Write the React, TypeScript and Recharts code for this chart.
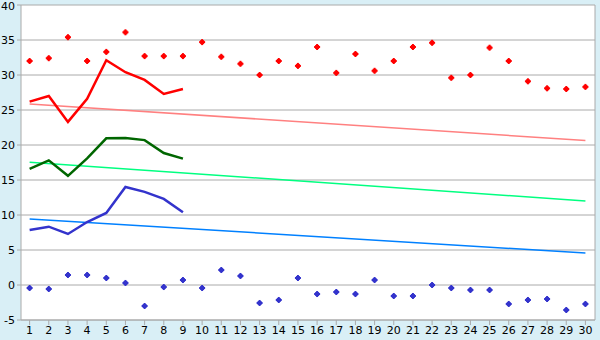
import {
  CartesianGrid,
  ComposedChart,
  Line,
  ReferenceLine,
  Scatter,
  XAxis,
  YAxis,
} from "recharts";

const days = Array.from({ length: 30 }, (_, i) => i + 1);
const yTicks = [-5, 0, 5, 10, 15, 20, 25, 30, 35, 40];

const redDots = [
  32.0, 32.4, 35.4, 32.0, 33.3, 36.1, 32.7, 32.7, 32.7, 34.7, 32.6, 31.6, 30.0, 32.0, 31.3,
  34.0, 30.3, 33.0, 30.6, 32.0, 34.0, 34.6, 29.6, 30.0, 33.9, 32.0, 29.1, 28.1, 28.0, 28.3,
];
const blueDots = [
  -0.43, -0.57, 1.43, 1.43, 1.0, 0.29, -3.0, -0.29, 0.71, -0.43, 2.14, 1.29, -2.57, -2.14, 1.0,
  -1.29, -1.0, -1.29, 0.71, -1.57, -1.57, 0.0, -0.43, -0.71, -0.71, -2.71, -2.14, -2.0, -3.57, -2.71,
];
const redLine = [26.2, 27.0, 23.3, 26.6, 32.1, 30.4, 29.3, 27.3, 28.0];
const greenLine = [16.6, 17.8, 15.6, 18.1, 20.95, 21.0, 20.7, 18.85, 18.05];
const blueLine = [7.86, 8.33, 7.29, 9.0, 10.3, 14.0, 13.3, 12.3, 10.4];

// trend lines: start / end values only
const redTrend = [25.85, 20.65];
const greenTrend = [17.55, 12.0];
const blueTrend = [9.43, 4.57];

const data = days.map((d, i) => ({
  x: d,
  redDot: redDots[i],
  blueDot: blueDots[i],
  red: i < redLine.length ? redLine[i] : null,
  green: i < greenLine.length ? greenLine[i] : null,
  blue: i < blueLine.length ? blueLine[i] : null,
  redT: i === 0 ? redTrend[0] : i === days.length - 1 ? redTrend[1] : null,
  greenT: i === 0 ? greenTrend[0] : i === days.length - 1 ? greenTrend[1] : null,
  blueT: i === 0 ? blueTrend[0] : i === days.length - 1 ? blueTrend[1] : null,
}));

const makeMarker = (color: string) => (props: any) => {
  const { cx, cy } = props;
  if (cx == null || cy == null) return <g />;
  return (
    <g fill={color}>
      <rect x={cx - 1} y={cy - 3} width={2} height={6} />
      <rect x={cx - 3} y={cy - 1} width={6} height={2} />
      <rect x={cx - 2} y={cy - 2} width={4} height={4} />
    </g>
  );
};

const tickStyle = { fill: "#000", fontSize: 11, fontFamily: "DejaVu Sans, Verdana, sans-serif" };

export default function App() {
  return (
    <div
      style={{
        position: "absolute",
        left: 0,
        top: 0,
        width: 600,
        height: 340,
        background: "#d9eff6",
      }}
    >
      <ComposedChart
        width={600}
        height={340}
        data={data}
        margin={{ top: 5, right: 5, left: 0, bottom: 0 }}
      >
        <CartesianGrid vertical={false} stroke="#aaaaaa" fill="#ffffff" />
        <XAxis
          dataKey="x"
          type="number"
          domain={[0.55, 30.5]}
          ticks={days}
          interval={0}
          allowDataOverflow
          height={20}
          tickSize={5}
          tickMargin={1}
          stroke="#aaaaaa"
          tick={tickStyle}
        />
        <YAxis
          domain={[-5, 40]}
          ticks={yTicks}
          allowDataOverflow
          width={21}
          tickSize={4}
          tickMargin={2}
          stroke="#aaaaaa"
          tick={tickStyle}
        />
        <ReferenceLine x={30.5} stroke="#aaaaaa" strokeWidth={1} />
        <Line
          dataKey="redT"
          stroke="#ff8080"
          strokeWidth={1.5}
          dot={false}
          connectNulls
          isAnimationActive={false}
        />
        <Line
          dataKey="greenT"
          stroke="#00ff80"
          strokeWidth={1.5}
          dot={false}
          connectNulls
          isAnimationActive={false}
        />
        <Line
          dataKey="blueT"
          stroke="#0080ff"
          strokeWidth={1.5}
          dot={false}
          connectNulls
          isAnimationActive={false}
        />
        <Line
          dataKey="red"
          stroke="#ff0000"
          strokeWidth={2.5}
          dot={false}
          isAnimationActive={false}
        />
        <Line
          dataKey="green"
          stroke="#006600"
          strokeWidth={2.5}
          dot={false}
          isAnimationActive={false}
        />
        <Line
          dataKey="blue"
          stroke="#3333cc"
          strokeWidth={2.5}
          dot={false}
          isAnimationActive={false}
        />
        <Scatter dataKey="redDot" shape={makeMarker("#ff0000")} isAnimationActive={false} />
        <Scatter dataKey="blueDot" shape={makeMarker("#3333cc")} isAnimationActive={false} />
      </ComposedChart>
    </div>
  );
}
